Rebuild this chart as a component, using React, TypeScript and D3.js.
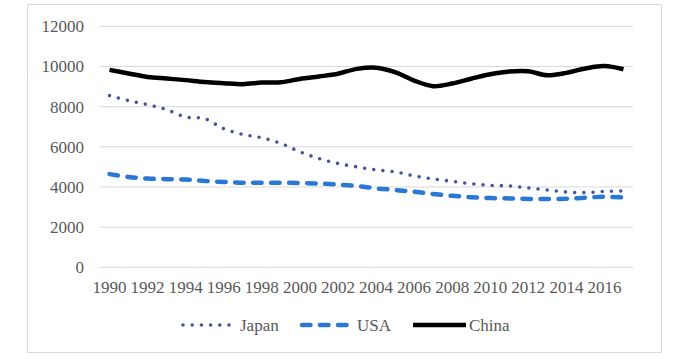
import React from "react";
import * as d3 from "d3";

const years = [1990,1991,1992,1993,1994,1995,1996,1997,1998,1999,2000,2001,2002,2003,2004,2005,2006,2007,2008,2009,2010,2011,2012,2013,2014,2015,2016,2017];
const japan = [8550,8300,8100,7850,7480,7400,6900,6620,6450,6170,5750,5420,5170,5000,4850,4750,4550,4400,4280,4160,4080,4050,3950,3850,3750,3720,3780,3800];
const usa = [4640,4500,4420,4390,4370,4300,4250,4210,4210,4210,4200,4170,4120,4050,3930,3850,3760,3650,3560,3490,3450,3430,3400,3400,3410,3470,3510,3480];
const china = [9830,9650,9480,9400,9320,9230,9170,9120,9200,9210,9380,9500,9640,9880,9940,9720,9300,9020,9150,9390,9610,9750,9760,9560,9680,9900,10020,9860];
const yTicks = [0,2000,4000,6000,8000,10000,12000];
const xTickLabels = years.filter((_, i) => i % 2 === 0);

const W = 700, H = 359;
const plotL = 100, plotR = 633, plotT = 26.3, plotB = 267.3;
const textColor = "#595959";

function Label(props: { x: number; y: number; anchor?: string; dy?: string; children: React.ReactNode }) {
  return (
    <text x={props.x} y={props.y} dy={props.dy} textAnchor={props.anchor || "start"}
      fontFamily="Liberation Serif" fontSize={17} fill={textColor}>{props.children}</text>
  );
}

export default function App() {
  const x = d3.scaleBand<number>().domain(years).range([plotL, plotR]);
  const cx = (yr: number) => (x(yr) as number) + x.bandwidth() / 2;
  const y = d3.scaleLinear().domain([0, 12000]).range([plotB, plotT]);
  const line = d3.line<number>()
    .x((_, i) => cx(years[i]))
    .y((d) => y(d))
    .curve(d3.curveCatmullRom.alpha(0.5));

  const series = [
    { name: "Japan", data: japan, color: "#44559e", width: 3.6, dash: "0 9.2", cap: "round" },
    { name: "USA", data: usa, color: "#2b78d2", width: 4.5, dash: "8.5 9.5", cap: "round" },
    { name: "China", data: china, color: "#000000", width: 4.5, dash: "", cap: "butt" },
  ];
  const legend = [
    { x1: 183, x2: 234, tx: 240 },
    { x1: 302, x2: 352, tx: 357 },
    { x1: 413, x2: 466, tx: 469 },
  ];

  return (
    <svg width={W} height={H} style={{ position: "absolute", left: 0, top: 0 }}>
      <rect x={0} y={0} width={W} height={H} fill="#ffffff" />
      <rect x={27.5} y={4.5} width={634} height={348} fill="#ffffff" stroke="#d9d9d9" strokeWidth={1} />
      {yTicks.map((t) => (
        <g key={t}>
          <line x1={plotL} x2={plotR} y1={y(t)} y2={y(t)} stroke="#d9d9d9" strokeWidth={1} />
          <Label x={84} y={y(t)} dy="0.35em" anchor="end">{t}</Label>
        </g>
      ))}
      {xTickLabels.map((yr) => (
        <Label key={yr} x={cx(yr)} y={292.5} anchor="middle">{yr}</Label>
      ))}
      {series.map((s) => (
        <path key={s.name} d={line(s.data) || ""} fill="none" stroke={s.color} strokeWidth={s.width}
          strokeDasharray={s.dash || undefined} strokeLinecap={s.cap as any} strokeLinejoin="round" />
      ))}
      {series.map((s, i) => (
        <g key={"lg" + s.name}>
          <line x1={legend[i].x1} x2={legend[i].x2} y1={325} y2={325} stroke={s.color} strokeWidth={s.width}
            strokeDasharray={s.dash || undefined} strokeLinecap={s.cap as any} />
          <Label x={legend[i].tx} y={325} dy="0.35em">{s.name}</Label>
        </g>
      ))}
    </svg>
  );
}
